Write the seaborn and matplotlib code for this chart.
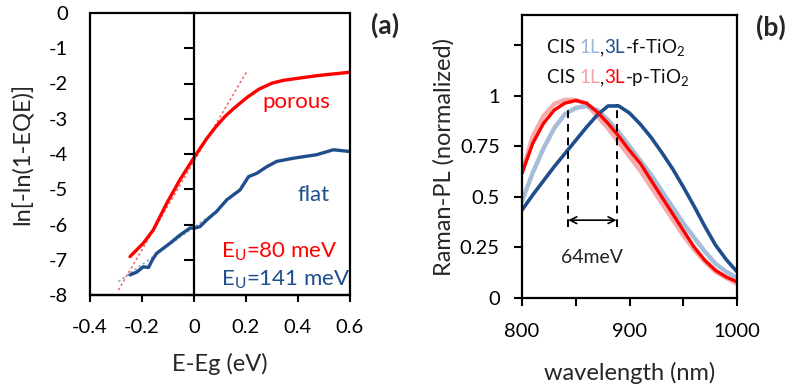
import numpy as np
import pandas as pd
import matplotlib
matplotlib.use("Agg")
import matplotlib.pyplot as plt
import seaborn as sns
from matplotlib.patches import Rectangle
from matplotlib.offsetbox import TextArea, HPacker, AnnotationBbox

sns.set_theme(style="white")
plt.rcParams['font.family'] = ['Lato', 'DejaVu Sans']
plt.rcParams['mathtext.fontset'] = 'custom'
plt.rcParams['mathtext.rm'] = 'Lato'
plt.rcParams['mathtext.it'] = 'Lato'

# ---------------- data: panel (a) ----------------
porous_x = [-0.246, -0.195, -0.157, -0.105, -0.054, 0.0, 0.05, 0.087, 0.12, 0.151, 0.203, 0.25, 0.3, 0.344, 0.47, 0.6]
porous_y = [-6.91, -6.53, -6.16, -5.40, -4.73, -4.1, -3.55, -3.2, -2.93, -2.72, -2.40, -2.16, -1.99, -1.91, -1.78, -1.68]
flat_x = [-0.246, -0.22, -0.195, -0.175, -0.16, -0.144, -0.092, -0.054, -0.015, 0.004, 0.023, 0.049,
          0.087, 0.126, 0.177, 0.21, 0.241, 0.28, 0.318, 0.382, 0.472, 0.536, 0.6]
flat_y = [-7.43, -7.35, -7.2, -7.22, -7.0, -6.82, -6.53, -6.30, -6.1, -6.1, -6.06, -5.87,
          -5.63, -5.30, -5.02, -4.64, -4.55, -4.36, -4.21, -4.12, -4.02, -3.88, -3.93]
fit_porous_x = [-0.291, 0.203]
fit_porous_y = [-7.86, -1.66]
fit_flat_x = [-0.291, 0.10]
fit_flat_y = [-7.62, -5.55]

# ---------------- data: panel (b) ----------------
wl = [800, 810, 820, 830, 840, 850, 860, 870, 880, 890, 900, 910, 920, 930, 940, 950, 960, 970, 980, 990, 1000]
pl_1L_f = [0.48, 0.62, 0.74, 0.84, 0.91, 0.94, 0.95, 0.93, 0.88, 0.82, 0.75, 0.68, 0.61, 0.53, 0.45, 0.37, 0.30, 0.23, 0.17, 0.13, 0.10]
pl_3L_f = [0.435, 0.51, 0.58, 0.65, 0.715, 0.78, 0.845, 0.905, 0.95, 0.95, 0.915, 0.86, 0.795, 0.72, 0.64, 0.55, 0.455, 0.355, 0.262, 0.19, 0.13]
pl_1L_p = [0.62, 0.80, 0.90, 0.96, 0.98, 0.98, 0.96, 0.90, 0.84, 0.77, 0.70, 0.63, 0.55, 0.47, 0.39, 0.31, 0.24, 0.18, 0.13, 0.10, 0.07]
pl_3L_p = [0.617, 0.765, 0.864, 0.93, 0.964, 0.977, 0.964, 0.92, 0.864, 0.80, 0.73, 0.666, 0.583, 0.50, 0.418, 0.335, 0.253, 0.187, 0.137, 0.104, 0.08]
shift_x = [843, 888]
shift_top = [0.94, 0.96]
shift_bottom = 0.35
arrow_y = 0.385

RED = '#FF0000'
BLUE = '#1F4E8C'
LBLUE = '#9DB6D6'
PINK = '#F4A3A3'

fig = plt.figure(figsize=(7.94, 3.91), dpi=100)
W, H = 794, 391
axa = fig.add_axes([90 / W, (H - 295) / H, 260 / W, 282 / H])
axb = fig.add_axes([522 / W, (H - 298) / H, 215 / W, 283 / H])

TS = 14.5
LS = 17
# ---------------- panel (a) ----------------
sns.lineplot(x=fit_porous_x, y=fit_porous_y, ax=axa, color='#F07070', lw=1.2, linestyle=(0, (1.5, 1.5)))
sns.lineplot(x=fit_flat_x, y=fit_flat_y, ax=axa, color='#8FA8C8', lw=1.2, linestyle=(0, (1.5, 1.5)))
sns.lineplot(x=porous_x, y=porous_y, ax=axa, color=RED, lw=2.4, sort=False)
sns.lineplot(x=flat_x, y=flat_y, ax=axa, color=BLUE, lw=2.4, sort=False)
axa.set_xlim(-0.4, 0.6)
axa.set_ylim(-8, 0)
axa.set_xticks([-0.4, -0.2, 0, 0.2, 0.4, 0.6])
axa.set_xticklabels(['-0.4', '-0.2', '0', '0.2', '0.4', '0.6'])
axa.set_yticks(range(-8, 1))
axa.set_yticklabels([str(v) for v in range(-8, 1)])
for s in ['top', 'right']:
    axa.spines[s].set_visible(False)
axa.spines['left'].set_position(('data', 0))
for s in axa.spines.values():
    s.set_color('black')
    s.set_linewidth(1.6)
axa.add_patch(Rectangle((0, 0), 1, 1, transform=axa.transAxes, fill=False, lw=1.6,
                        edgecolor='black', clip_on=False, zorder=5))
axa.tick_params(axis='y', direction='out', length=7, width=1.5, pad=(123 - 7) * 0.72,
                labelsize=TS, left=True, colors='black')
axa.tick_params(axis='x', direction='out', length=5, width=1.5, pad=12, labelsize=TS,
                bottom=True, colors='black')
axa.set_xlabel('E-Eg (eV)', fontsize=LS)
axa.xaxis.set_label_coords(0.5, -0.205)
axa.set_ylabel('ln[-ln(1-EQE)]', fontsize=LS)
axa.yaxis.set_label_coords(-0.215, 0.5)
axa.text(0.395, -2.52, 'porous', color=RED, fontsize=16, ha='center', va='center')
axa.text(0.46, -5.16, 'flat', color=BLUE, fontsize=16, ha='center', va='center')
axa.text(0.105, -6.78, r'E$_\mathrm{U}$=80 meV', color=RED, fontsize=16, ha='left', va='center')
axa.text(0.105, -7.57, r'E$_\mathrm{U}$=141 meV', color=BLUE, fontsize=16, ha='left', va='center')

# ---------------- panel (b) ----------------
sns.lineplot(x=wl, y=pl_1L_p, ax=axb, color=PINK, lw=3.2, alpha=0.9)
sns.lineplot(x=wl, y=pl_1L_f, ax=axb, color=LBLUE, lw=3.2, alpha=0.9)
sns.lineplot(x=wl, y=pl_3L_f, ax=axb, color=BLUE, lw=2.6)
sns.lineplot(x=wl, y=pl_3L_p, ax=axb, color=RED, lw=2.4)
axb.vlines(shift_x, shift_bottom, shift_top, colors='black', linestyles=(0, (4, 3)), lw=1.4)
axb.annotate('', xy=(shift_x[0], arrow_y), xytext=(shift_x[1], arrow_y),
             arrowprops=dict(arrowstyle='<->', color='black', lw=1.2, shrinkA=0, shrinkB=0))
axb.text(sum(shift_x) / 2, 0.2, '64meV', fontsize=14, ha='center', va='center', color='#222222')
axb.set_xlim(800, 1000)
axb.set_ylim(0, 1.4)
axb.set_xticks([800, 850, 900, 950, 1000])
axb.set_xticklabels(['800', '', '900', '', '1000'])
axb.set_yticks([0, 0.25, 0.5, 0.75, 1, 1.25])
axb.set_yticklabels(['0', '0.25', '0.5', '0.75', '1', ''])
for s in axb.spines.values():
    s.set_color('black')
    s.set_linewidth(1.6)
axb.tick_params(axis='both', direction='out', length=6, width=1.5, labelsize=TS,
                left=True, bottom=True, colors='black')
axb.tick_params(axis='y', pad=10)
axb.tick_params(axis='x', pad=12)
axb.set_xlabel('wavelength (nm)', fontsize=LS)
axb.xaxis.set_label_coords(0.5, -0.225)
axb.set_ylabel('Raman-PL (normalized)', fontsize=LS)
axb.yaxis.set_label_coords(-0.315, 0.5)

def colored_line(parts, y):
    boxes = [TextArea(t, textprops=dict(color=c, fontsize=13.5)) for t, c in parts]
    pack = HPacker(children=boxes, align='baseline', pad=0, sep=0)
    ab = AnnotationBbox(pack, (0.115, y), xycoords='axes fraction', box_alignment=(0, 0.5),
                        frameon=False, pad=0)
    axb.add_artist(ab)

colored_line([('CIS ', '#111111'), ('1L', LBLUE), (',', '#111111'), ('3L', BLUE),
              ('-f-TiO$_2$', '#111111')], 0.885)
colored_line([('CIS ', '#111111'), ('1L', PINK), (',', '#111111'), ('3L', RED),
              ('-p-TiO$_2$', '#111111')], 0.778)

fig.text(385 / W, 1 - 25 / H, '(a)', fontsize=19, fontweight='bold', ha='center', va='center')
fig.text(771 / W, 1 - 27 / H, '(b)', fontsize=19, fontweight='bold', ha='center', va='center')

fig.savefig('out.png', dpi=100, facecolor='white')
